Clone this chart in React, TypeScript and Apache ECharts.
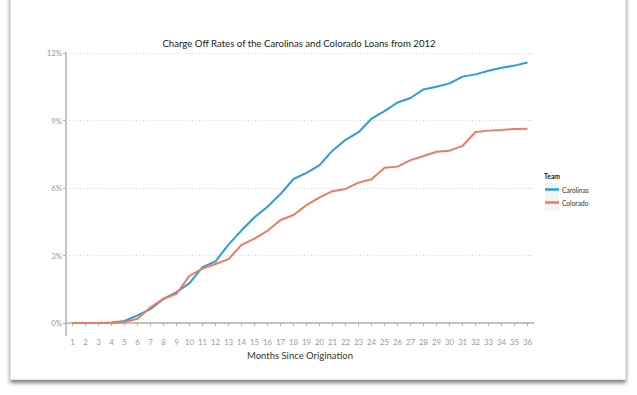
import React, { useEffect, useRef } from "react";
import * as echarts from "echarts";

const months = ["1","2","3","4","5","6","7","8","9","10","11","12","13","14","15","16","17","18","19","20","21","22","23","24","25","26","27","28","29","30","31","32","33","34","35","36"];
const carolinas = [0, 0, 0, 0.02, 0.09, 0.34, 0.62, 1.07, 1.37, 1.77, 2.48, 2.74, 3.48, 4.12, 4.7, 5.17, 5.73, 6.4, 6.67, 7.02, 7.66, 8.14, 8.48, 9.08, 9.42, 9.8, 10.0, 10.38, 10.5, 10.65, 10.95, 11.05, 11.21, 11.34, 11.44, 11.58];
const colorado = [0, 0, 0, 0, 0.04, 0.19, 0.7, 1.08, 1.3, 2.1, 2.42, 2.62, 2.84, 3.47, 3.75, 4.1, 4.58, 4.8, 5.24, 5.58, 5.86, 5.96, 6.24, 6.39, 6.9, 6.95, 7.24, 7.42, 7.61, 7.66, 7.87, 8.49, 8.55, 8.58, 8.62, 8.63];
const seriesNames = ["Carolinas", "Colorado"];
const yTicks = { min: 0, max: 12, step: 3 };
const titleText = "Charge Off Rates of the Carolinas and Colorado Loans from 2012";
const xTitle = "Months Since Origination";
const legendTitle = "Team";

const FONT = "Lato, 'Open Sans', sans-serif";

export default function App() {
  const ref = useRef<HTMLDivElement>(null);
  useEffect(() => {
    if (!ref.current) return;
    const chart = echarts.init(ref.current, null, { renderer: "svg" });
    chart.setOption({
      animation: false,
      backgroundColor: "transparent",
      textStyle: { fontFamily: FONT },
      grid: { left: 66, right: 103, top: 53, bottom: 72, containLabel: false },
      xAxis: {
        type: "category",
        data: months,
        boundaryGap: true,
        offset: 12,
        axisLine: { show: true, lineStyle: { color: "#b0b0b0", width: 1.5 } },
        axisTick: { show: true, alignWithLabel: true, length: 3, lineStyle: { color: "#b0b0b0" } },
        axisLabel: { color: "#999", fontSize: 7.8, margin: 3, fontFamily: FONT, interval: 0 },
        splitLine: { show: false },
        name: xTitle,
        nameLocation: "middle",
        nameGap: 13,
        nameTextStyle: { color: "#333", fontSize: 9.5, fontFamily: FONT },
      },
      yAxis: {
        type: "value",
        min: yTicks.min,
        max: yTicks.max,
        interval: yTicks.step,
        axisLine: { show: false },
        axisTick: { show: true, length: 3, lineStyle: { color: "#b0b0b0" } },
        axisLabel: {
          color: "#999",
          fontSize: 7.8,
          margin: 4,
          fontFamily: FONT,
          formatter: (v: number) => `${v}%`,
        },
        splitLine: { show: true, lineStyle: { color: "#cfcfcf", type: [1, 2.5], width: 1 } },
      },
      legend: {
        orient: "vertical",
        left: 545,
        top: 186,
        padding: 0,
        itemWidth: 14,
        itemHeight: 2.5,
        itemGap: 6,
        icon: "rect",
        data: seriesNames,
        textStyle: { fontSize: 6.6, color: "#333", fontFamily: FONT, padding: [0, 0, 0, -2] },
      },
      graphic: [
        {
          type: "text",
          x: 299,
          y: 43,
          style: { text: titleText, fill: "#222", fontSize: 9.6, fontFamily: FONT, textAlign: "center", textVerticalAlign: "middle" },
        },
        {
          type: "line",
          shape: { x1: 66, y1: 52, x2: 66, y2: 336 },
          style: { stroke: "#b0b0b0", lineWidth: 1.5 },
        },
        {
          type: "text",
          x: 544,
          y: 176,
          style: { text: legendTitle, fill: "#222", fontSize: 6.8, fontWeight: "bold", fontFamily: FONT, textVerticalAlign: "middle" },
        },
        { type: "rect", z: 0, shape: { x: 545, y: 183, width: 14, height: 14 }, style: { fill: "#f3f3f3" } },
        { type: "rect", z: 0, shape: { x: 545, y: 197, width: 14, height: 14 }, style: { fill: "#f3f3f3" } },
      ],
      series: [
        {
          name: seriesNames[0],
          type: "line",
          data: carolinas,
          showSymbol: false,
          symbol: "none",
          color: "#2b9fd5",
          lineStyle: { width: 2, color: "#2b9fd5" },
          z: 3,
        },
        {
          name: seriesNames[1],
          type: "line",
          data: colorado,
          showSymbol: false,
          symbol: "none",
          color: "#f07a60",
          lineStyle: { width: 2, color: "#f07a60" },
          z: 4,
        },
      ],
    });
    return () => chart.dispose();
  }, []);

  return (
    <div style={{ position: "fixed", left: 0, top: 0, width: 637, height: 395, background: "#fff", overflow: "hidden" }}>
      <div
        style={{
          position: "absolute",
          left: 10,
          top: -6,
          width: 616,
          height: 386,
          background: "#fff",
          border: "1px solid #e6e6e6",
          boxSizing: "border-box",
          boxShadow: "0 3px 4px rgba(0,0,0,0.5)",
        }}
      />
      <div ref={ref} style={{ position: "absolute", left: 0, top: 0, width: 637, height: 395 }} />
    </div>
  );
}
